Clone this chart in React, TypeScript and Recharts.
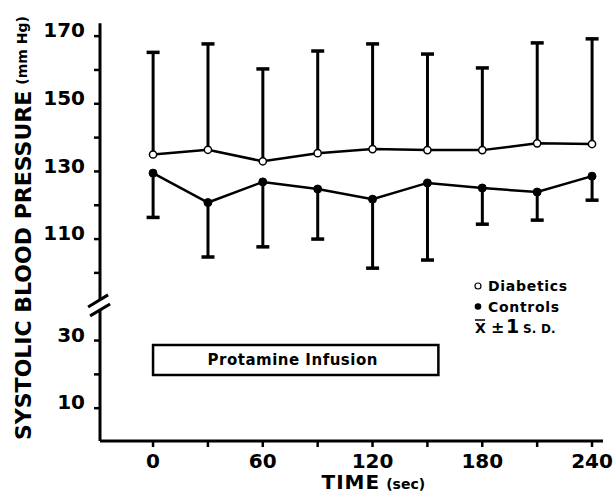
import React from 'react';
import {
  ComposedChart,
  XAxis,
  YAxis,
  Line,
  Bar,
  ReferenceLine,
  ReferenceArea,
} from 'recharts';

// time points (sec)
const times = [0, 30, 60, 90, 120, 150, 180, 210, 240];

// systolic pressure, mm Hg (mean and mean +/- 1 SD)
const diabeticsMean = [135, 136.4, 133, 135.4, 136.6, 136.3, 136.3, 138.3, 138.1];
const diabeticsHigh = [165.2, 167.7, 160.3, 165.6, 167.7, 164.7, 160.6, 168, 169.2];
const controlsMean = [129.5, 120.8, 126.9, 124.8, 121.8, 126.6, 125.1, 123.9, 128.6];
const controlsLow = [116.4, 104.7, 107.7, 110, 101.4, 103.8, 114.4, 115.6, 121.5];

// axis ticks
const xTicks = [0, 30, 60, 90, 120, 150, 180, 210, 240];
const xLabels = [0, 60, 120, 180, 240];
const upperTicks = [100, 110, 120, 130, 140, 150, 160, 170];
const upperLabels = [110, 130, 150, 170];
const lowerTicks = [10, 20, 30];
const lowerLabels = [10, 30];

// protamine infusion bar (sec / mm Hg)
const infusionStart = 0;
const infusionEnd = 156;
const infusionLow = 19.8;
const infusionHigh = 28.7;

// the y axis is broken: the low part (0-40) is drawn shifted up
const BREAK_SHIFT = 50;
const lift = (v: number) => v + BREAK_SHIFT;
const unlift = (v: number) => (v < 95 ? v - BREAK_SHIFT : v);

const yTicks = [...lowerTicks.map(lift), ...upperTicks];
const yShown = [...lowerLabels.map(lift), ...upperLabels];

const rows = times.map((t, i) => ({
  t,
  diabetics: diabeticsMean[i],
  diabeticsSd: [diabeticsMean[i], diabeticsHigh[i]],
  controls: controlsMean[i],
  controlsSd: [controlsLow[i], controlsMean[i]],
}));

const FONT = '"DejaVu Sans", sans-serif';

const SdBar = (props: any) => {
  const { x, y, width, height, up } = props;
  if (x == null || y == null) return null;
  const top = Math.min(y, y + height);
  const bottom = Math.max(y, y + height);
  const cx = x + width / 2;
  const capY = up ? top : bottom;
  return (
    <g>
      <line x1={cx} x2={cx} y1={top} y2={bottom} stroke="#000" strokeWidth={3} />
      <line x1={x} x2={x + width} y1={capY} y2={capY} stroke="#000" strokeWidth={3.5} />
    </g>
  );
};

const XTick = (props: any) => {
  const { x, y, payload } = props;
  if (!xLabels.includes(payload.value)) return null;
  return (
    <text x={x} y={y + 19} textAnchor="middle" fontFamily={FONT} fontWeight="bold" fontSize={20} fill="#000">
      {payload.value}
    </text>
  );
};

const YTick = (props: any) => {
  const { x, y, payload } = props;
  if (!yShown.includes(payload.value)) return null;
  return (
    <text x={x} y={y - 6} dy="0.36em" textAnchor="end" fontFamily={FONT} fontWeight="bold" fontSize={20} fill="#000">
      {unlift(payload.value)}
    </text>
  );
};

const YTitle = (props: any) => {
  const vb = props.viewBox || { x: 0, y: 27, width: 100, height: 414 };
  const bx = vb.x + 31;
  const by = vb.y + vb.height - 1;
  return (
    <text
      x={bx}
      y={by}
      transform={`rotate(-90 ${bx} ${by})`}
      fontFamily={FONT}
      fontWeight="bold"
      fontSize={22}
      fill="#000"
    >
      SYSTOLIC BLOOD PRESSURE
      <tspan fontSize={14} dx={6} dy={-4}>(mm Hg)</tspan>
    </text>
  );
};

const XTitle = (props: any) => {
  const vb = props.viewBox || { x: 100, y: 441, width: 503, height: 58 };
  const x = vb.x + vb.width / 2 - 30;
  const y = vb.y + 48;
  return (
    <text x={x} y={y} fontFamily={FONT} fontWeight="bold" fontSize={20} fill="#000" letterSpacing={1}>
      TIME
      <tspan fontSize={14} dx={6} letterSpacing={0}>(sec)</tspan>
    </text>
  );
};

const InfusionLabel = (props: any) => {
  const vb = props.viewBox;
  if (!vb) return null;
  return (
    <text
      x={vb.x + vb.width / 2 - 3}
      y={vb.y + vb.height / 2 + 5}
      textAnchor="middle"
      fontFamily={FONT}
      fontWeight="bold"
      fontSize={15}
      letterSpacing={0.5}
      fill="#000"
    >
      Protamine Infusion
    </text>
  );
};

const openDot = (p: any) => (
  <circle key={`d-${p.index}`} cx={p.cx} cy={p.cy} r={3.6} fill="#fff" stroke="#000" strokeWidth={1.5} />
);
const fullDot = (p: any) => (
  <circle key={`c-${p.index}`} cx={p.cx} cy={p.cy} r={4} fill="#000" stroke="#000" strokeWidth={1} />
);

const Key = () => (
  <svg
    width={616}
    height={499}
    style={{ position: 'absolute', left: 0, top: 0, pointerEvents: 'none' }}
  >
    <g fontFamily={FONT} fontWeight="bold" fill="#000">
      <circle cx={478} cy={286} r={3} fill="#fff" stroke="#000" strokeWidth={1.2} />
      <text x={488} y={291} fontSize={14} letterSpacing={0.7}>Diabetics</text>
      <circle cx={478} cy={306.5} r={3.3} fill="#000" />
      <text x={488} y={311.5} fontSize={14} letterSpacing={0.7}>Controls</text>
      <text y={333}>
        <tspan x={475} fontSize={14}>X</tspan>
        <tspan x={491} fontSize={16}>±</tspan>
        <tspan x={506} fontSize={19}>1</tspan>
        <tspan x={523} fontSize={12}>S.</tspan>
        <tspan x={541} fontSize={12}>D.</tspan>
      </text>
      <line x1={475} x2={485} y1={320} y2={320} stroke="#000" strokeWidth={1.5} />
    </g>
  </svg>
);

const App: React.FC = () => {
  return (
    <div style={{ position: 'absolute', left: 0, top: 0, width: 616, height: 499, background: '#fff' }}>
      <ComposedChart
        width={616}
        height={499}
        data={rows}
        margin={{ top: 27, right: 13, bottom: 0, left: 0 }}
        barGap={-13}
      >
        <XAxis
          dataKey="t"
          type="number"
          domain={[-29, 246]}
          ticks={xTicks}
          allowDataOverflow
          height={58}
          axisLine={{ stroke: '#000', strokeWidth: 3 }}
          tickLine={{ stroke: '#000', strokeWidth: 2.5 }}
          tickSize={6}
          tickMargin={2}
          tick={<XTick />}
          label={<XTitle />}
        />
        <YAxis
          type="number"
          domain={[50.3, 172.7]}
          ticks={yTicks}
          allowDataOverflow
          width={100}
          axisLine={false}
          tickLine={{ stroke: '#000', strokeWidth: 2.5 }}
          tickSize={6}
          tickMargin={9}
          tick={<YTick />}
          label={<YTitle />}
        />

        {/* broken y axis line */}
        <ReferenceLine
          segment={[{ x: -29, y: 92 }, { x: -29, y: 173.8 }]}
          stroke="#000"
          strokeWidth={3}
          ifOverflow="visible"
        />
        <ReferenceLine
          segment={[{ x: -29, y: 50.3 }, { x: -29, y: 89 }]}
          stroke="#000"
          strokeWidth={3}
          ifOverflow="visible"
        />
        <ReferenceLine
          segment={[{ x: -35.5, y: 89.9 }, { x: -24.6, y: 93.5 }]}
          stroke="#000"
          strokeWidth={3}
          ifOverflow="visible"
        />
        <ReferenceLine
          segment={[{ x: -34.4, y: 87.3 }, { x: -23.5, y: 90.8 }]}
          stroke="#000"
          strokeWidth={3}
          ifOverflow="visible"
        />

        <ReferenceArea
          x1={infusionStart}
          x2={infusionEnd}
          y1={lift(infusionLow)}
          y2={lift(infusionHigh)}
          fill="#fff"
          fillOpacity={1}
          stroke="#000"
          strokeWidth={2.5}
          ifOverflow="visible"
          label={<InfusionLabel />}
        />

        <Bar
          dataKey="diabeticsSd"
          barSize={13}
          isAnimationActive={false}
          shape={(p: any) => <SdBar {...p} up />}
        />
        <Bar
          dataKey="controlsSd"
          barSize={13}
          isAnimationActive={false}
          shape={(p: any) => <SdBar {...p} up={false} />}
        />

        <Line
          type="linear"
          dataKey="diabetics"
          stroke="#000"
          strokeWidth={2.5}
          dot={openDot}
          activeDot={false}
          isAnimationActive={false}
        />
        <Line
          type="linear"
          dataKey="controls"
          stroke="#000"
          strokeWidth={2.5}
          dot={fullDot}
          activeDot={false}
          isAnimationActive={false}
        />
      </ComposedChart>
      <Key />
    </div>
  );
};

export default App;
